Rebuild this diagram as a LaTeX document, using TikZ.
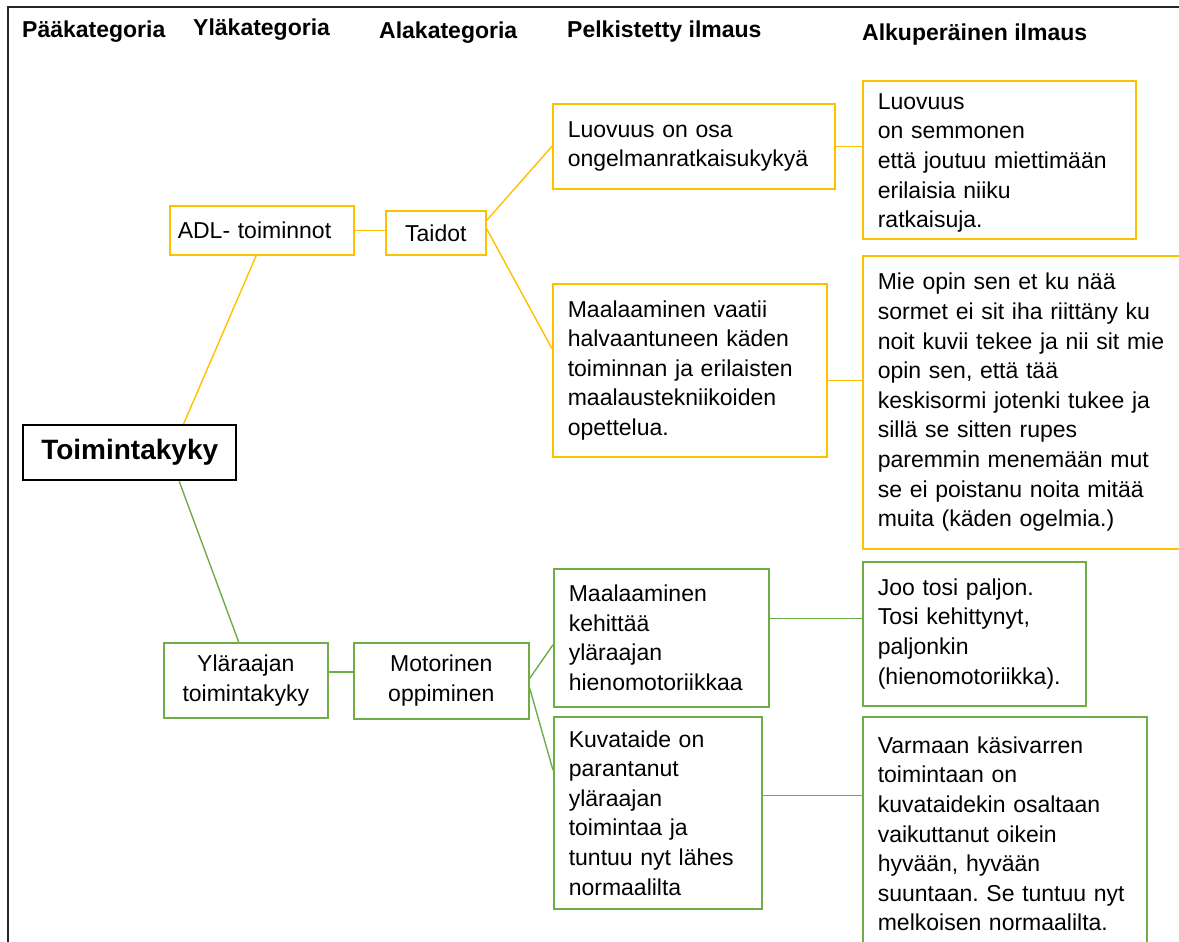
\documentclass[tikz,border=0pt]{standalone}
\usepackage{fontspec}
\setmainfont{Liberation Sans}
\usetikzlibrary{calc}
\definecolor{amber}{HTML}{FFC000}
\definecolor{leaf}{HTML}{70AD47}
\frenchspacing
\begin{document}
\begin{tikzpicture}[x=1pt,y=-1pt,
  head/.style={font=\bfseries\fontsize{23}{28}\selectfont, anchor=base west, inner sep=0pt},
  body/.style={font=\fontsize{23}{29.6}\selectfont},
  ybox/.style={draw=amber, line width=1.6pt, body, anchor=north west, align=left, inner xsep=15pt, inner ysep=0pt},
  gbox/.style={draw=leaf, line width=1.6pt, body, anchor=north west, align=left, inner xsep=15pt, inner ysep=0pt},
  ylink/.style={draw=amber, line width=1.4pt},
  glink/.style={draw=leaf, line width=1.4pt}]
\useasboundingbox (0,0) rectangle (1179,942);
\clip (0,0) rectangle (1179,942);

% outer frame (top and left edges)
\draw[line width=2pt, black!85] (8,942) -- (8,7.5) -- (1179,7.5);

% column headings
\node[head] (hpaa) at (22,38) {Pääkategoria};
\node[head] (hyla) at (193,36) {Yläkategoria};
\node[head] (hala) at (379,38.5) {Alakategoria};
\node[head] (hpel) at (567,38) {Pelkistetty ilmaus};
\node[head] (halk) at (862,41) {Alkuperäinen ilmaus};

% main category
\node[draw, line width=2.4pt, font=\bfseries\fontsize{28}{33}\selectfont,
      minimum width=213pt, minimum height=55pt, anchor=north west, inner sep=0pt]
  (toim) at (22,424) {Toimintakyky};

% upper branch (yellow)
\node[ybox, inner xsep=8pt, text width=168pt, minimum height=49pt] (adl) at (169,205) {ADL- toiminnot};
\node[ybox, align=center, text width=70pt, minimum height=44pt] (taidot) at (385,210) {Taidot};
\node[ybox, text width=252pt, minimum height=85pt] (lo) at (552,103)
  {Luovuus on osa\\ongelmanratkaisukykyä};
\node[ybox, text width=243pt, minimum height=158pt] (lr) at (862,80)
  {\rule{0pt}{22pt}Luovuus\\on semmonen\\että joutuu miettimään\\erilaisia niiku\\ratkaisuja.};
\node[ybox, text width=244pt, minimum height=173pt] (mv) at (552,283)
  {Maalaaminen vaatii\\halvaantuneen käden\\toiminnan ja erilaisten\\maalaustekniikoiden\\opettelua.};
\node[ybox, text width=310pt, minimum height=293pt] (mo) at (862,255)
  {Mie opin sen et ku nää\\sormet ei sit iha riittäny ku\\noit kuvii tekee ja nii sit mie\\opin sen, että tää\\keskisormi jotenki tukee ja\\sillä se sitten rupes\\paremmin menemään mut\\se ei poistanu noita mitää\\muita (käden ogelmia.)};

% lower branch (green)
\node[gbox, align=center, text width=134pt, minimum height=75pt] (yl) at (163,642)
  {Yläraajan\\toimintakyky};
\node[gbox, align=center, text width=145pt, minimum height=76pt] (mot) at (353,642)
  {Motorinen\\oppiminen};
\node[gbox, text width=185pt, minimum height=138pt] (mk) at (553,568)
  {Maalaaminen\\kehittää\\yläraajan\\hienomotoriikkaa};
\node[gbox, text width=193pt, minimum height=144pt] (joo) at (862,561)
  {Joo tosi paljon.\\Tosi kehittynyt,\\paljonkin\\(hienomotoriikka).};
\node[gbox, text width=178pt, minimum height=192pt] (kuv) at (553,716)
  {Kuvataide on\\parantanut\\yläraajan\\toimintaa ja\\tuntuu nyt lähes\\normaalilta};
\node[gbox, text width=254pt, minimum height=234pt] (var) at (862,716)
  {Varmaan käsivarren\\toimintaan on\\kuvataidekin osaltaan\\vaikuttanut oikein\\hyvään, hyvään\\suuntaan. Se tuntuu nyt\\melkoisen normaalilta.};

% connectors, upper branch
\draw[ylink] ($(toim.north west)!0.75!(toim.north east)$) -- ($(adl.south west)!0.47!(adl.south east)$);
\draw[ylink] (adl.east) -- (adl.east -| taidot.west);
\draw[ylink] ($(taidot.north east)!0.23!(taidot.south east)$) -- (lo.west);
\draw[ylink] ($(taidot.north east)!0.41!(taidot.south east)$) -- ($(mv.north west)!0.376!(mv.south west)$);
\draw[ylink] (lo.east) -- (lo.east -| lr.west);
\coordinate (mvout) at ($(mv.north east)!0.56!(mv.south east)$);
\draw[ylink] (mvout) -- (mvout -| mo.west);

% connectors, lower branch
\draw[glink] ($(toim.south west)!0.73!(toim.south east)$) -- ($(yl.north west)!0.457!(yl.north east)$);
\coordinate (ylout) at ($(yl.north east)!0.39!(yl.south east)$);
\draw[glink] (ylout) -- (ylout -| mot.west);
\draw[glink] ($(mot.north east)!0.47!(mot.south east)$) -- ($(mk.north west)!0.55!(mk.south west)$);
\draw[glink] ($(mot.north east)!0.59!(mot.south east)$) -- ($(kuv.north west)!0.28!(kuv.south west)$);
\coordinate (mkout) at ($(mk.north east)!0.36!(mk.south east)$);
\draw[glink] (mkout) -- (mkout -| joo.west);
\coordinate (kuvout) at ($(kuv.north east)!0.41!(kuv.south east)$);
\draw[glink] (kuvout) -- (kuvout -| var.west);
\end{tikzpicture}
\end{document}
